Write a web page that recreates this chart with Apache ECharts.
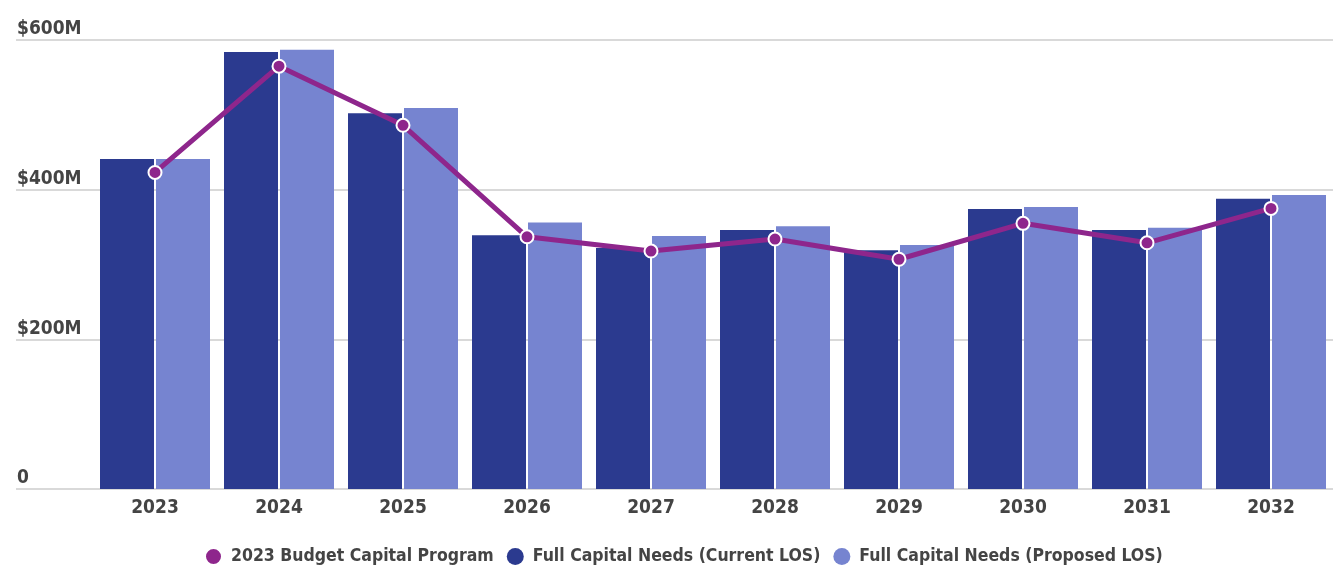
<!DOCTYPE html>
<html>
<head>
<meta charset="utf-8">
<script src="https://cdn.jsdelivr.net/npm/echarts@6/dist/echarts.min.js"></script>
<style>
  html, body { margin: 0; padding: 0; background: #fff; }
  #chart { width: 1333px; height: 567px; }
</style>
</head>
<body>
<div id="chart"></div>
<script>
// Capital program by year, in millions of dollars
const years = ['2023', '2024', '2025', '2026', '2027', '2028', '2029', '2030', '2031', '2032'];
const budgetProgram = [423, 565, 486, 337, 318, 334, 307, 355, 329, 375];
const needsCurrentLOS = [441, 584, 502, 339, 322, 346, 319, 374, 346, 388];
const needsProposedLOS = [441, 587, 509, 356, 338, 351, 326, 377, 349, 393];
const yTicks = [0, 200, 400, 600];

const FONT = '"Liberation Sans Narrow", "DejaVu Sans Condensed", sans-serif';
const TEXT = '#444444';
const PURPLE = '#8e268c';
const DARK = '#2b3a8f';
const LIGHT = '#7684d0';

const chart = echarts.init(document.getElementById('chart'), null, { renderer: 'canvas' });

chart.setOption({
  animation: false,
  textStyle: { fontFamily: FONT },
  legend: {
    top: 542,
    left: 199,
    icon: 'circle',
    itemWidth: 17,
    itemHeight: 17,
    itemGap: 13,
    textStyle: { fontFamily: FONT, fontSize: 17.5, fontWeight: 'bold', color: TEXT, padding: [0, 0, 0, 4] },
    data: ['2023 Budget Capital Program', 'Full Capital Needs (Current LOS)', 'Full Capital Needs (Proposed LOS)']
  },
  grid: [
    // full-width grid that carries the horizontal gridlines and value labels
    { left: 16, right: 0, top: 40, bottom: 78 },
    // grid holding the yearly bars and the line
    { left: 93, width: 1242, top: 40, bottom: 78 }
  ],
  xAxis: [
    { gridIndex: 0, type: 'value', show: false, min: 0, max: 1 },
    {
      gridIndex: 1,
      type: 'category',
      data: years,
      axisLine: { show: false },
      axisTick: { show: false },
      axisLabel: { margin: 10, fontFamily: FONT, fontSize: 19, fontWeight: 'bold', color: TEXT }
    }
  ],
  yAxis: [
    {
      gridIndex: 0,
      type: 'value',
      min: yTicks[0],
      max: yTicks[yTicks.length - 1],
      interval: yTicks[1] - yTicks[0],
      axisLine: { show: false },
      axisTick: { show: false },
      splitLine: { show: true, lineStyle: { color: '#d9d9d9', width: 2 } },
      axisLabel: {
        inside: true,
        margin: 1,
        align: 'left',
        verticalAlign: 'bottom',
        padding: [0, 0, 1, 0],
        fontFamily: FONT,
        fontSize: 19,
        fontWeight: 'bold',
        color: TEXT,
        formatter: v => (v === 0 ? '0' : '$' + v + 'M')
      }
    },
    {
      gridIndex: 1,
      type: 'value',
      min: yTicks[0],
      max: yTicks[yTicks.length - 1],
      interval: yTicks[1] - yTicks[0],
      show: false,
      splitLine: { show: false }
    }
  ],
  series: [
    {
      name: '2023 Budget Capital Program',
      type: 'line',
      xAxisIndex: 1,
      yAxisIndex: 1,
      data: budgetProgram,
      z: 5,
      color: PURPLE,
      lineStyle: { color: PURPLE, width: 5 },
      symbol: 'circle',
      symbolSize: 13,
      itemStyle: { color: PURPLE, borderColor: '#ffffff', borderWidth: 2 }
    },
    {
      name: 'Full Capital Needs (Current LOS)',
      type: 'bar',
      xAxisIndex: 1,
      yAxisIndex: 1,
      data: needsCurrentLOS,
      barWidth: 54,
      barGap: '3.7%',
      color: DARK,
      itemStyle: { color: DARK }
    },
    {
      name: 'Full Capital Needs (Proposed LOS)',
      type: 'bar',
      xAxisIndex: 1,
      yAxisIndex: 1,
      data: needsProposedLOS,
      barWidth: 54,
      barGap: '3.7%',
      color: LIGHT,
      itemStyle: { color: LIGHT }
    }
  ]
});
</script>
</body>
</html>
